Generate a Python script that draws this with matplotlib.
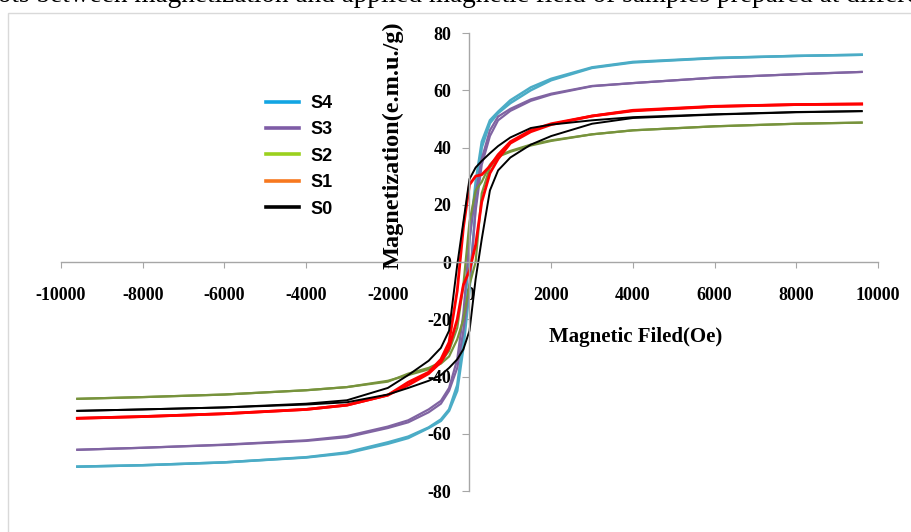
import matplotlib
matplotlib.use("Agg")
import matplotlib.pyplot as plt
from matplotlib.lines import Line2D
from matplotlib.patches import Rectangle

plt.rcParams["font.family"] = "Liberation Serif"

# field grid for the descending branch (+Hmax -> -Hmax); ascending branch uses it reversed
h_desc = [9600, 8000, 6000, 4000, 3000, 2000, 1500, 1000, 700, 500, 300, 150, 0,
          -150, -300, -500, -700, -1000, -1500, -2000, -3000, -4000, -6000, -8000, -9600]
h_asc = h_desc[::-1]

# S4 (cyan)
s4_desc = [72.4, 72.0, 71.3, 69.9, 68.0, 64.0, 61.0, 56.5, 52.5, 49.5, 42.0, 28.0, 8.0,
           -27.0, -43.0, -51.5, -55.0, -57.8, -61.0, -63.0, -66.5, -68.2, -70.0, -71.0, -71.5]
s4_asc = [-71.5, -71.0, -70.0, -68.3, -66.8, -63.5, -61.5, -58.0, -55.5, -52.0, -45.0, -30.0, -10.0,
          20.0, 40.0, 48.5, 52.0, 55.5, 60.0, 63.5, 67.8, 69.7, 71.2, 72.0, 72.4]

# S3 (purple)
s3_desc = [66.4, 65.6, 64.4, 62.5, 61.5, 58.8, 56.8, 53.5, 50.8, 46.0, 36.0, 24.0, 8.0,
           -18.0, -34.0, -44.0, -48.5, -51.5, -55.3, -57.5, -60.8, -62.3, -63.8, -64.9, -65.6]
s3_asc = [-65.6, -64.9, -63.9, -62.5, -61.2, -58.0, -56.0, -52.5, -49.5, -45.0, -37.0, -24.0, -8.0,
          18.0, 34.0, 44.0, 49.5, 52.8, 56.3, 58.5, 61.4, 62.5, 64.4, 65.6, 66.4]

# S2 (green)
s2_desc = [48.7, 48.3, 47.4, 46.0, 44.6, 42.5, 41.0, 38.8, 37.0, 34.0, 28.0, 25.0, 14.0,
           -8.0, -23.0, -31.0, -35.0, -37.0, -39.0, -41.8, -43.7, -44.8, -46.3, -47.2, -47.8]
s2_asc = [-47.8, -47.2, -46.3, -44.8, -43.7, -41.5, -39.5, -37.5, -35.5, -33.0, -27.0, -20.0, -8.0,
          0.0, 24.0, 33.0, 36.8, 38.5, 40.7, 42.3, 44.6, 46.0, 47.4, 48.3, 48.7]

# S1 (red)
s1_desc = [55.2, 55.0, 54.4, 53.0, 51.0, 48.3, 46.0, 42.0, 37.5, 33.5, 30.5, 30.0, 27.0,
           12.0, -10.0, -28.0, -34.0, -38.5, -42.0, -46.5, -50.0, -51.5, -53.0, -54.0, -54.6]
s1_asc = [-54.6, -54.0, -53.0, -51.5, -50.0, -46.5, -43.0, -39.0, -35.0, -30.0, -20.0, -8.0, -3.0,
          6.0, 21.0, 31.0, 36.0, 41.5, 45.5, 48.0, 51.0, 52.8, 54.3, 55.0, 55.2]

# S0 (black)
s0_desc = [52.7, 52.4, 51.6, 50.6, 49.5, 48.0, 46.8, 43.5, 40.5, 38.0, 35.3, 33.0, 29.0,
           14.0, -1.0, -24.0, -30.0, -34.5, -39.5, -44.0, -48.3, -49.5, -50.8, -51.5, -52.0]
s0_asc = [-52.0, -51.5, -50.8, -49.8, -49.0, -46.3, -44.0, -41.5, -39.5, -37.0, -34.0, -30.5, -24.0,
          -6.0, 8.0, 25.0, 32.0, 36.5, 41.0, 44.0, 48.3, 50.3, 51.5, 52.3, 52.7]

samples = ["S4", "S3", "S2", "S1", "S0"]
curves = [(s4_desc, s4_asc), (s3_desc, s3_asc), (s2_desc, s2_asc),
          (s1_desc, s1_asc), (s0_desc, s0_asc)]
line_colors = ["#4BACC6", "#8064A2", "#77933C", "#FF0000", "#000000"]
line_widths = [1.8, 1.6, 1.6, 2.0, 1.4]
legend_colors = ["#12A5E3", "#7E5CA6", "#9BD11E", "#F7781F", "#000000"]

xticks = [-10000, -8000, -6000, -4000, -2000, 0, 2000, 4000, 6000, 8000, 10000]
yticks = [-80, -60, -40, -20, 0, 20, 40, 60, 80]

grey = "#A6A6A6"

fig = plt.figure(figsize=(9.12, 5.32), dpi=100)
ax = fig.add_axes([61 / 912, 1 - 491 / 532, 817 / 912, 458 / 532])

for (d, a), c, lw in zip(curves, line_colors, line_widths):
    ax.plot(h_desc, d, color=c, lw=lw, solid_joinstyle="round")
    ax.plot(h_asc, a, color=c, lw=lw, solid_joinstyle="round")

ax.spines["left"].set_position(("data", 0))
ax.spines["bottom"].set_position(("data", 0))
ax.spines["right"].set_visible(False)
ax.spines["top"].set_visible(False)
for s in ("left", "bottom"):
    ax.spines[s].set_color(grey)
    ax.spines[s].set_linewidth(1.0)

ax.set_xlim(-10000, 10000)
ax.set_ylim(-80, 80)
ax.set_xticks(xticks)
ax.set_yticks(yticks)
ax.set_xticklabels([str(t) for t in xticks])
ax.set_yticklabels([str(t) for t in yticks])
for lab in ax.get_xticklabels() + ax.get_yticklabels():
    lab.set_fontweight("bold")
    lab.set_fontsize(13)
ax.tick_params(axis="x", direction="out", length=4, color=grey, pad=14)
ax.tick_params(axis="y", direction="out", length=5, color=grey, pad=8)

fig.text(393 / 912, 1 - 145 / 532, "Magnetization(e.m.u./g)", rotation=90,
         ha="center", va="center", fontweight="bold", fontsize=17.5)
fig.text(636 / 912, 1 - 337 / 532, "Magnetic Filed(Oe)",
         ha="center", va="center", fontweight="bold", fontsize=15)

# caption text cut off at the top of the image
fig.text(-25 / 912, 1 - 2 / 532,
         "Plots between magnetization and applied magnetic field of samples prepared at different temperatures",
         ha="left", va="baseline", fontsize=19.6)

# light chart-area border
fig.patches.append(Rectangle((8 / 912, -0.02), 1.0, 1.02 - 12.5 / 532, transform=fig.transFigure,
                             fill=False, edgecolor="#D9D9D9", lw=1.0))

handles = [Line2D([], [], color=c, lw=2.6) for c in legend_colors]
ax.legend(handles, samples, loc="upper left", bbox_to_anchor=(266 / 912, 1 - 95 / 532),
          bbox_transform=fig.transFigure, frameon=False, borderpad=0, borderaxespad=0,
          handlelength=1.8, handletextpad=0.65, labelspacing=0.52,
          prop={"family": "Liberation Sans", "weight": "bold", "size": 13})

fig.savefig("out.png", dpi=100)
